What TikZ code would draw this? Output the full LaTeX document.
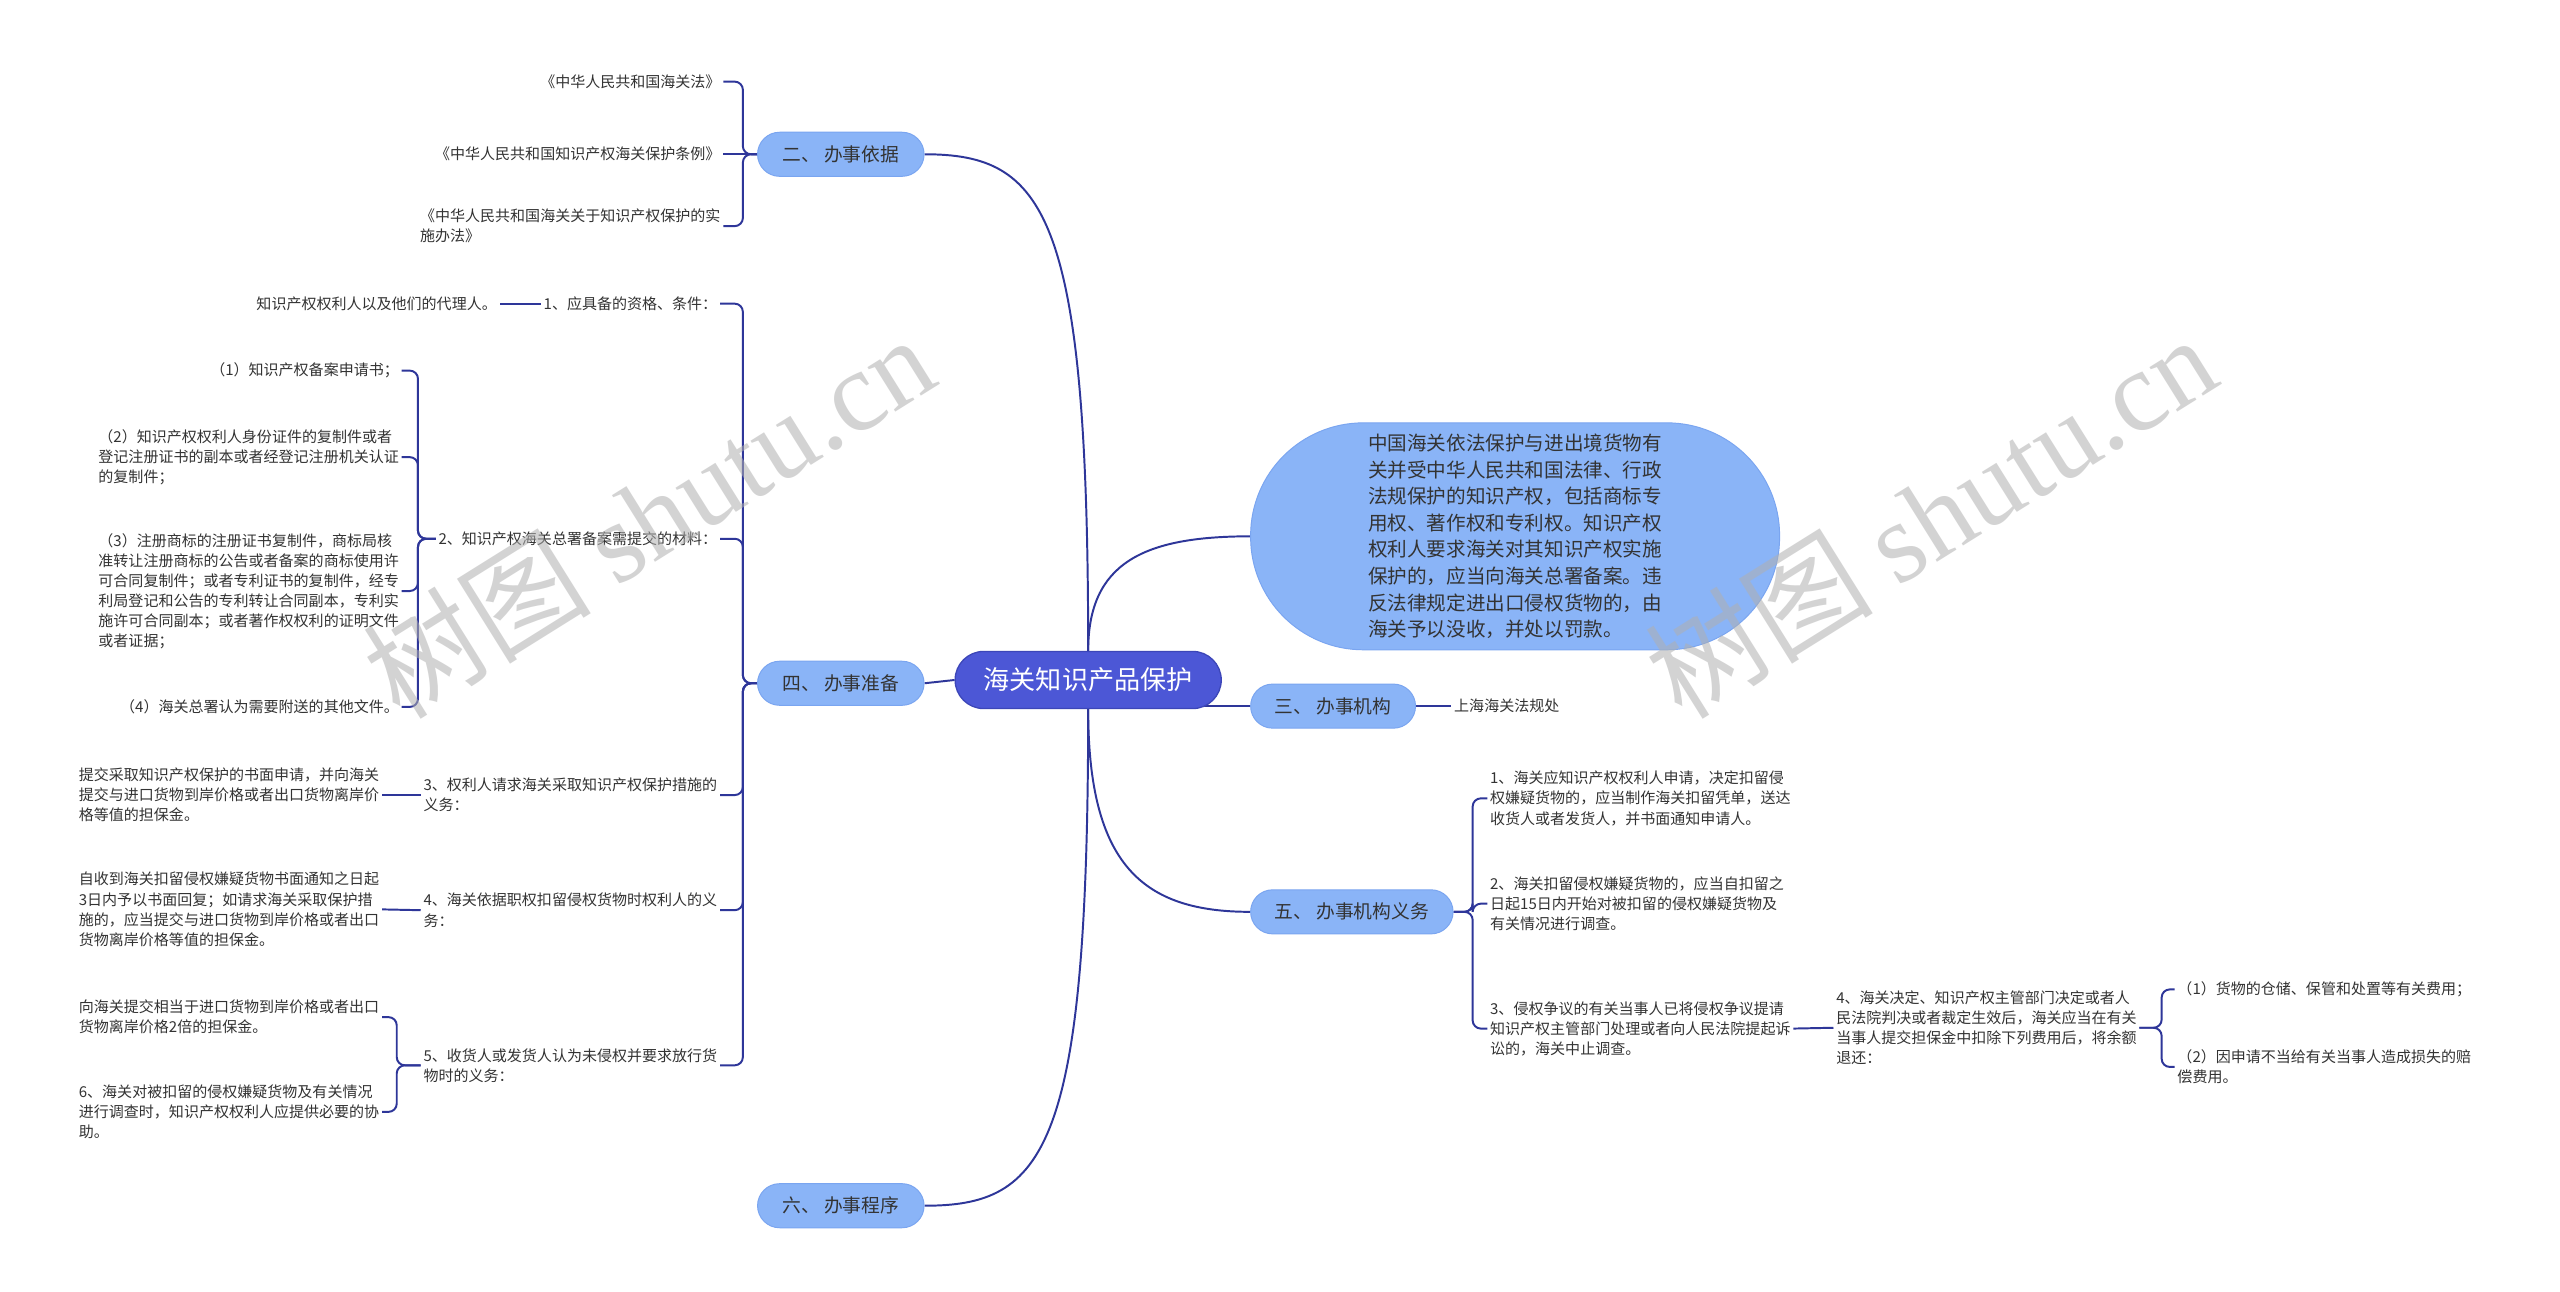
\documentclass[tikz,border=0pt]{standalone}
\usepackage{fontspec}
\setmainfont{Noto Sans CJK SC}
\newfontfamily\wmfont{Liberation Serif}
\usetikzlibrary{backgrounds}
\definecolor{linec}{HTML}{2E3699}
\definecolor{rootfill}{HTML}{4C57D6}
\definecolor{rootdraw}{HTML}{3C46B8}
\definecolor{lvfill}{HTML}{8AB4F7}
\definecolor{lvdraw}{HTML}{7AA5F0}
\definecolor{txt}{HTML}{333333}
\definecolor{wmc}{HTML}{B0B0B0}
\begin{document}
\begin{tikzpicture}[x=1pt,y=-1pt,
  leaf/.style={font=\fontsize{9.2}{12.3}\selectfont, text=txt, inner sep=1.5pt, align=left},
  leafL/.style={leaf, anchor=east},
  leafR/.style={leaf, anchor=west},
  lone/.style={fill=lvfill, draw=lvdraw, line width=0.6pt, rounded corners=13.5pt, minimum height=27pt, minimum width=102pt, inner sep=0pt, font=\fontsize{11.5}{13}\selectfont, text=txt},
  rootbox/.style={fill=rootfill, draw=rootdraw, line width=0.8pt, rounded corners=17.5pt, minimum height=35pt, minimum width=163pt, inner sep=0pt, font=\fontsize{16}{18}\selectfont, text=white},
  bignote/.style={fill=lvfill, draw=lvdraw, line width=0.6pt, rounded corners=69pt, minimum width=324pt, minimum height=139pt, inner sep=0pt, font=\fontsize{12}{16.3}\selectfont, text=txt, align=left},
  conn/.style={draw=linec, line width=1.2pt},
  brace/.style={conn, rounded corners=5pt},
  wmark/.style={text=wmc, opacity=0.55, rotate=32, inner sep=0pt, font=\fontsize{70}{70}\selectfont}
]
\useasboundingbox (0,0) rectangle (1568,791);

% root and level-1
\node[rootbox] (root) at (666.5,416.5) {海关知识产品保护};
\node[lone] (er) at (515,94.5) {二、 办事依据};
\node[lone] (si) at (515,418.5) {四、 办事准备};
\node[lone] (liu) at (515,738.5) {六、 办事程序};
\node[lone, minimum width=101pt] (san) at (816.5,432.5) {三、 办事机构};
\node[lone, minimum width=124pt] (wu) at (828,558.5) {五、 办事机构义务};
\node[bignote] (note) at (928,328.5) {中国海关依法保护与进出境货物有\\关并受中华人民共和国法律、行政\\法规保护的知识产权，包括商标专\\用权、著作权和专利权。知识产权\\权利人要求海关对其知识产权实施\\保护的，应当向海关总署备案。违\\反法律规定进出口侵权货物的，由\\海关予以没收，并处以罚款。};

% children of 二
\coordinate (erbr) at (455,94.5);
\node[leafL] (a1) at (443,50) {《中华人民共和国海关法》};
\node[leafL] (a2) at (443,94.5) {《中华人民共和国知识产权海关保护条例》};
\node[leafL] (a3) at (443,138.5) {《中华人民共和国海关关于知识产权保护的实\\施办法》};

% children of 四
\coordinate (sibr) at (455,418.5);
\node[leafL] (b1) at (441,186) {1、应具备的资格、条件：};
\node[leafL] (b2) at (441,330) {2、知识产权海关总署备案需提交的材料：};
\node[leafL] (b3) at (441,487) {3、权利人请求海关采取知识产权保护措施的\\义务：};
\node[leafL] (b4) at (441,557.5) {4、海关依据职权扣留侵权货物时权利人的义\\务：};
\node[leafL] (b5) at (441,652.5) {5、收货人或发货人认为未侵权并要求放行货\\物时的义务：};

\node[leafL] (b1c) at (306,186) {知识产权权利人以及他们的代理人。};

\coordinate (b2br) at (256,330);
\node[leafL] (c1) at (246,227) {（1）知识产权备案申请书；};
\node[leafL] (c2) at (246,280) {（2）知识产权权利人身份证件的复制件或者\\登记注册证书的副本或者经登记注册机关认证\\的复制件；};
\node[leafL] (c3) at (246,362) {（3）注册商标的注册证书复制件，商标局核\\准转让注册商标的公告或者备案的商标使用许\\可合同复制件；或者专利证书的复制件，经专\\利局登记和公告的专利转让合同副本，专利实\\施许可合同副本；或者著作权权利的证明文件\\或者证据；};
\node[leafL] (c4) at (246,433) {（4）海关总署认为需要附送的其他文件。};

\node[leafL] (d3) at (234,487) {提交采取知识产权保护的书面申请，并向海关\\提交与进口货物到岸价格或者出口货物离岸价\\格等值的担保金。};
\node[leafL] (d4) at (234,557) {自收到海关扣留侵权嫌疑货物书面通知之日起\\3日内予以书面回复；如请求海关采取保护措\\施的，应当提交与进口货物到岸价格或者出口\\货物离岸价格等值的担保金。};

\coordinate (b5br) at (243,652.5);
\node[leafL] (e1) at (234,623) {向海关提交相当于进口货物到岸价格或者出口\\货物离岸价格2倍的担保金。};
\node[leafL] (e2) at (234,681) {6、海关对被扣留的侵权嫌疑货物及有关情况\\进行调查时，知识产权权利人应提供必要的协\\助。};

% right side
\node[leafR] (f1) at (889,432.5) {上海海关法规处};

\coordinate (wubr) at (902,558.5);
\node[leafR] (g1) at (911,489) {1、海关应知识产权权利人申请，决定扣留侵\\权嫌疑货物的，应当制作海关扣留凭单，送达\\收货人或者发货人，并书面通知申请人。};
\node[leafR] (g2) at (911,553.5) {2、海关扣留侵权嫌疑货物的，应当自扣留之\\日起15日内开始对被扣留的侵权嫌疑货物及\\有关情况进行调查。};
\node[leafR] (g3) at (911,630) {3、侵权争议的有关当事人已将侵权争议提请\\知识产权主管部门处理或者向人民法院提起诉\\讼的，海关中止调查。};
\node[leafR] (h1) at (1123,629.5) {4、海关决定、知识产权主管部门决定或者人\\民法院判决或者裁定生效后，海关应当在有关\\当事人提交担保金中扣除下列费用后，将余额\\退还：};

\coordinate (h1br) at (1324,629.5);
\node[leafR] (i1) at (1332,606) {（1）货物的仓储、保管和处置等有关费用；};
\node[leafR] (i2) at (1332,653.5) {（2）因申请不当给有关当事人造成损失的赔\\偿费用。};

\begin{scope}[on background layer]
  \fill[white] (0,0) rectangle (1568,791);
  % root connectors
  \draw[conn] (root.north) .. controls (666.5,130) and (640,94.5) .. (er.east);
  \draw[conn] (root.west) -- (si.east);
  \draw[conn] (root.south) .. controls (666.5,705) and (640,738.5) .. (liu.east);
  \draw[conn] (root.north) .. controls (666.5,345) and (700,328.5) .. (note.west);
  \draw[conn] (root.center |- san.west) -- (san.west);
  \draw[conn] (root.south) .. controls (666.5,530) and (700,558.5) .. (wu.west);

  % 二
  \draw[brace] (er.west) -- (erbr) |- (a1.east);
  \draw[conn] (er.west) -- (a2.east);
  \draw[brace] (er.west) -- (erbr) |- (a3.east);

  % 四
  \draw[brace] (si.west) -- (sibr) |- (b1.east);
  \draw[brace] (si.west) -- (sibr) |- (b2.east);
  \draw[brace] (si.west) -- (sibr) |- (b3.east);
  \draw[brace] (si.west) -- (sibr) |- (b4.east);
  \draw[brace] (si.west) -- (sibr) |- (b5.east);

  \draw[conn] (b1.west) -- (b1c.east);
  \draw[brace] (b2.west) -- (b2br) |- (c1.east);
  \draw[brace] (b2.west) -- (b2br) |- (c2.east);
  \draw[brace] (b2.west) -- (b2br) |- (c3.east);
  \draw[brace] (b2.west) -- (b2br) |- (c4.east);
  \draw[conn] (b3.west) -- (d3.east);
  \draw[conn] (b4.west) -- (d4.east);
  \draw[brace] (b5.west) -- (b5br) |- (e1.east);
  \draw[brace] (b5.west) -- (b5br) |- (e2.east);

  % right
  \draw[conn] (san.east) -- (f1.west);
  \draw[brace] (wu.east) -- (wubr) |- (g1.west);
  \draw[brace] (wu.east) -- (wubr) |- (g2.west);
  \draw[brace] (wu.east) -- (wubr) |- (g3.west);
  \draw[conn] (g3.east) -- (h1.west);
  \draw[brace] (h1.east) -- (h1br) |- (i1.west);
  \draw[brace] (h1.east) -- (h1br) |- (i2.west);
\end{scope}

% watermarks
\node[wmark] (wm1) at (397,316) {树图 {\wmfont shutu.cn}};
\node[wmark] (wm2) at (1182,316) {树图 {\wmfont shutu.cn}};
\end{tikzpicture}
\end{document}
